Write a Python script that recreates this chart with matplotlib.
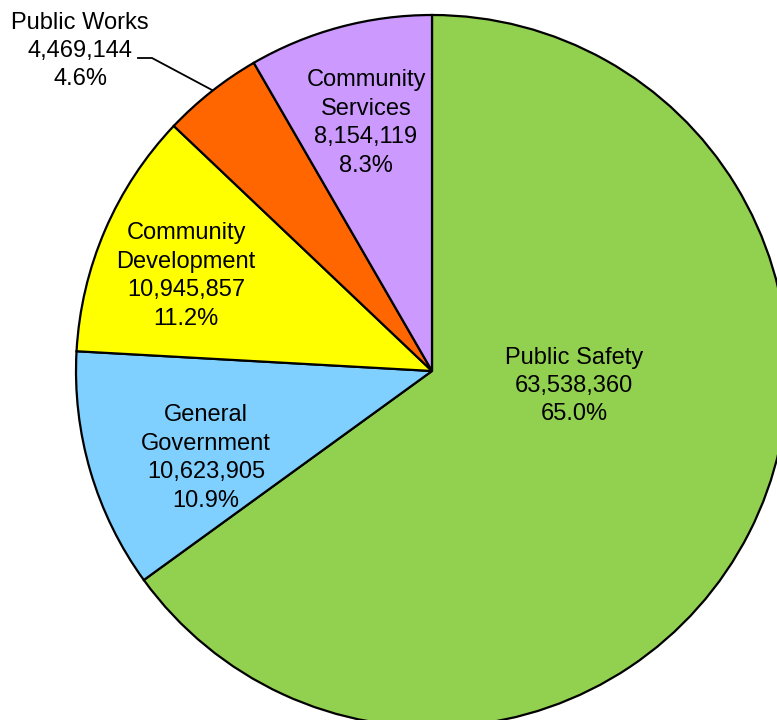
import matplotlib
matplotlib.use("Agg")
import matplotlib.pyplot as plt

plt.rcParams['font.family'] = ['Liberation Sans', 'DejaVu Sans']

categories = ["Public Safety", "General\nGovernment", "Community\nDevelopment",
              "Public Works", "Community\nServices"]
values = [63538360, 10623905, 10945857, 4469144, 8154119]
colors = ["#92D050", "#80D0FF", "#FFFF00", "#FF6600", "#CC99FF"]

# Label block centres in pixel space (x from left, y from top)
label_px = [(574, 386), (206, 458), (186, 276), (80, 51), (366, 123)]

W, H = 777, 720
CX, CY, R = 432, 371, 356  # pie centre and radius in pixels

fig = plt.figure(figsize=(W / 100, H / 100), dpi=100)
ax = fig.add_axes([0, 0, 1, 1])

ax.pie(values, colors=colors, startangle=90, counterclock=False, radius=1,
       center=(0, 0),
       wedgeprops=dict(edgecolor="black", linewidth=1.6, antialiased=True))

ax.set_xlim(-CX / R, (W - CX) / R)
ax.set_ylim(-(H - CY) / R, CY / R)
ax.set_aspect("auto")
ax.axis("off")


def to_data(px, py):
    return (px - CX) / R, (CY - py) / R


total = sum(values)
for name, val, (px, py) in zip(categories, values, label_px):
    txt = f"{name}\n{val:,}\n{val / total * 100:.1f}%"
    x, y = to_data(px, py)
    ax.text(x, y, txt, ha="center", va="center", fontsize=17,
            linespacing=1.38, color="black")

# Leader line for the small Public Works slice
pts = [(138, 58), (152, 58), (212, 90)]
lx = [to_data(p, q)[0] for p, q in pts]
ly = [to_data(p, q)[1] for p, q in pts]
ax.plot(lx, ly, color="black", linewidth=1.3)

fig.savefig("out.png", dpi=100)
